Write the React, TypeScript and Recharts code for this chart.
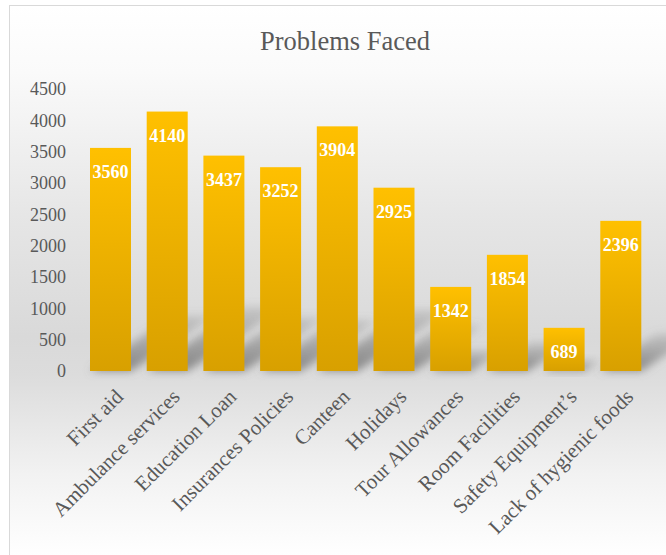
import React from 'react';
import { Bar, BarChart, CartesianGrid, LabelList, XAxis, YAxis } from 'recharts';

const categories = [
  'First aid',
  'Ambulance services',
  'Education Loan',
  'Insurances Policies',
  'Canteen',
  'Holidays',
  'Tour Allowances',
  'Room Facilities',
  'Safety Equipment’s',
  'Lack of hygienic foods',
];
const counts = [3560, 4140, 3437, 3252, 3904, 2925, 1342, 1854, 689, 2396];
const yTicks = [0, 500, 1000, 1500, 2000, 2500, 3000, 3500, 4000, 4500];

const data = categories.map((name, i) => ({ name, value: counts[i] }));

const FONT = '"Liberation Serif", "Times New Roman", serif';
const TEXT = '#595959';

// bar with an Excel-like perspective shadow cast up and to the right
const ShadowBar = (props: any) => {
  const { x, y, width, height } = props;
  if (!height || height <= 0) return null;
  const yb = y + height;
  const sh = height * 0.25;
  const sx = sh * 1.5;
  const pts = `${x},${yb} ${x + width},${yb} ${x + width + sx},${yb - sh} ${x + sx},${yb - sh}`;
  return (
    <g>
      <polygon points={pts} fill="url(#shadowFade)" filter="url(#shadowBlur)" />
      <rect x={x} y={y} width={width} height={height} fill="url(#barGold)" />
    </g>
  );
};

const ValueLabel = (props: any) => {
  const { x, y, width, value } = props;
  return (
    <text
      x={x + width / 2}
      y={y + 30}
      textAnchor="middle"
      fill="#ffffff"
      fontWeight="bold"
      fontSize={18}
      fontFamily={FONT}
    >
      {value}
    </text>
  );
};

const AngledTick = (props: any) => {
  const { x, y, payload } = props;
  const tx = x + 14;
  const ty = y + 19;
  return (
    <text
      x={tx}
      y={ty}
      transform={`rotate(-45, ${tx}, ${ty})`}
      textAnchor="end"
      fill={TEXT}
      fontSize={21}
      fontFamily={FONT}
    >
      {payload.value}
    </text>
  );
};

export default function App() {
  return (
    <div style={{ position: 'absolute', left: 0, top: 0, width: 666, height: 555, overflow: 'hidden' }}>
      <div
        style={{
          position: 'absolute',
          left: 9,
          top: 5,
          width: 700,
          height: 551,
          borderLeft: '1.5px solid #d9d9d9',
          borderTop: '1.5px solid #d9d9d9',
          background:
            'linear-gradient(to bottom, #ffffff 0%, #fafafa 12%, #e6e6e6 38%, #d9d9d9 60%, #dcdcdc 67%, #f2f2f2 85%, #ffffff 100%)',
        }}
      />
      <div
        style={{
          position: 'absolute',
          left: 345,
          top: 25,
          transform: 'translateX(-50%)',
          whiteSpace: 'nowrap',
          fontFamily: FONT,
          fontSize: 26.5,
          lineHeight: '32px',
          color: TEXT,
        }}
      >
        Problems Faced
      </div>
      <div style={{ position: 'absolute', left: 0, top: 0 }}>
        <BarChart
          width={666}
          height={555}
          data={data}
          margin={{ top: 89, right: 17, bottom: 0, left: 0 }}
        >
          <defs>
            <linearGradient id="barGold" x1="0" y1="0" x2="0" y2="1">
              <stop offset="0%" stopColor="#ffc000" />
              <stop offset="100%" stopColor="#d8a000" />
            </linearGradient>
            <linearGradient id="shadowFade" x1="0" y1="1" x2="0" y2="0">
              <stop offset="0%" stopColor="#777777" stopOpacity={0.85} />
              <stop offset="100%" stopColor="#777777" stopOpacity={0.2} />
            </linearGradient>
            <filter id="shadowBlur" x="-50%" y="-50%" width="200%" height="200%">
              <feGaussianBlur stdDeviation="4" />
            </filter>
          </defs>
          <CartesianGrid horizontal={false} vertical={false} fill="none" />
          <XAxis
            dataKey="name"
            interval={0}
            height={184}
            axisLine={false}
            tickLine={false}
            tick={<AngledTick />}
          />
          <YAxis
            width={82}
            domain={[0, 4500]}
            ticks={yTicks}
            interval={0}
            axisLine={false}
            tickLine={false}
            tickMargin={10}
            tick={{ fill: TEXT, fontSize: 18, fontFamily: FONT }}
          />
          <Bar dataKey="value" barSize={41} shape={<ShadowBar />} isAnimationActive={false}>
            <LabelList dataKey="value" content={<ValueLabel />} />
          </Bar>
        </BarChart>
      </div>
    </div>
  );
}
